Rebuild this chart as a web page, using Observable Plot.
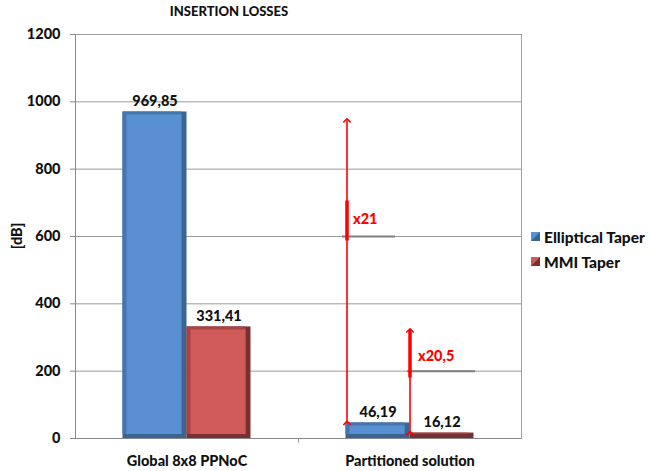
<!DOCTYPE html>
<html>
<head>
<meta charset="utf-8">
<script src="https://cdn.jsdelivr.net/npm/d3@7"></script>
<script src="https://cdn.jsdelivr.net/npm/@observablehq/plot@0.6"></script>
<style>
  body { margin: 0; background: #fff; font-family: Lato, "Open Sans", sans-serif; }
  #wrap { position: relative; width: 649px; height: 471px; }
  #title { position: absolute; left: 0; width: 458px; top: 3px; text-align: center; font-weight: 900; font-size: 13px; color: #111; }
  #chart { position: absolute; left: 0; top: 24px; }
  #ylabel { position: absolute; left: 16px; top: 236px; transform: translate(-50%, -50%) rotate(-90deg); font-weight: 900; font-size: 14.5px; color: #111; white-space: nowrap; }
  #legend { position: absolute; left: 531px; top: 224px; font-weight: 900; font-size: 15.5px; color: #111; }
  .item { display: flex; align-items: center; height: 25px; }
  .sw { width: 9px; height: 9px; margin-right: 4px; }
</style>
</head>
<body>
<div id="wrap">
  <div id="title">INSERTION LOSSES</div>
  <div id="chart"></div>
  <div id="ylabel">[dB]</div>
  <div id="legend"></div>
</div>
<script>
const groups = ["Global 8x8 PPNoC", "Partitioned solution"];
const series = ["Elliptical Taper", "MMI Taper"];
const elliptical = [969.85, 46.19];
const mmi = [331.41, 16.12];
const yTicks = [0, 200, 400, 600, 800, 1000, 1200];
const ratioLabels = ["x21", "x20,5"];
const arrowFrom = [46.19, 16.12];
const arrowTo = [945, 321];
const arrowThickFrom = [588, 181];
const arrowThickTo = [707, 321];
const leaderY = [600, 200];

const colors = {
  "Elliptical Taper": {dark: "#3a6493", mid: "#4676ad", face: "#5990d1"},
  "MMI Taper": {dark: "#7a3031", mid: "#a64445", face: "#d15b5b"}
};

const bars = [];
groups.forEach((g, i) => {
  bars.push({group: g, series: series[0], value: elliptical[i]});
  bars.push({group: g, series: series[1], value: mmi[i]});
});
const fmt = v => v.toFixed(2).replace(".", ",");

const arrows = ratioLabels.map((lab, i) => ({
  group: groups[1], label: lab, from: arrowFrom[i], to: arrowTo[i],
  t1: arrowThickFrom[i], t2: arrowThickTo[i], ly: leaderY[i]
}));

const W = 649, H = 447;
const ML = 75, MR = 128;
const band = (W - ML - MR) / groups.length;
const barW = 64;
const baseInset = (band - barW) / 2;
const off = s => (s === series[0] ? -barW / 2 : barW / 2);

function barLayer(s, key, extra) {
  return Plot.barY(bars.filter(d => d.series === s), {
    x: "group", y: "value", fill: colors[s][key],
    dx: off(s),
    insetLeft: baseInset + (extra.l || 0),
    insetRight: baseInset + (extra.r || 0),
    insetTop: extra.t || 0,
    insetBottom: extra.b || 0
  });
}

const marks = [
  Plot.gridY(yTicks, {stroke: "#9a9a9a", strokeOpacity: 1}),
  Plot.frame({stroke: "#a0a0a0"}),
  Plot.ruleX([0], {x: () => groups[1], dx: -band / 2, y1: 0, y2: -14, stroke: "#999"}),
  Plot.tickY([arrows[0]], {x: "group", y: "ly", stroke: "#7f7f7f", strokeWidth: 2, insetLeft: 44, insetRight: 126}),
  Plot.tickY([arrows[1]], {x: "group", y: "ly", stroke: "#7f7f7f", strokeWidth: 2, insetLeft: 109, insetRight: 46}),
  Plot.ruleY([0], {stroke: "#888"}),
  Plot.ruleX([0], {x: () => groups[0], dx: -band / 2, stroke: "#888"})
];

for (const s of series) {
  marks.push(barLayer(s, "dark", {}));
  marks.push(barLayer(s, "mid", {r: 5, b: 4}));
  marks.push(barLayer(s, "face", {l: 4, r: 5, t: 3, b: 4}));
}

for (const s of series) {
  marks.push(Plot.text(bars.filter(d => d.series === s), {
    x: "group", y: "value", text: d => fmt(d.value), dx: off(s), dy: -11,
    fontWeight: 900, fontSize: 14.5, fill: "#111"
  }));
}

// ratio arrows
marks.push(Plot.link(arrows.slice(0, 1), {x1: "group", x2: "group", y1: "from", y2: "to", dx: -barW + 1,
  stroke: "#ff0000", strokeWidth: 1.6, markerStart: "arrow", markerEnd: "arrow"}));
marks.push(Plot.link(arrows.slice(1), {x1: "group", x2: "group", y1: "from", y2: "to", dx: 0,
  stroke: "#ff0000", strokeWidth: 1.6, markerStart: "arrow", markerEnd: "arrow"}));
marks.push(Plot.link(arrows.slice(0, 1), {x1: "group", x2: "group", y1: "t1", y2: "t2", dx: -barW + 1,
  stroke: "#ff0000", strokeWidth: 3.5}));
marks.push(Plot.link(arrows.slice(1), {x1: "group", x2: "group", y1: "t1", y2: "t2", dx: 0,
  stroke: "#ff0000", strokeWidth: 3.5}));
marks.push(Plot.text(arrows.slice(0, 1), {x: "group", y: "ly", text: "label", dx: -barW + 7, dy: -17,
  textAnchor: "start", fill: "#ff0000", fontWeight: 900, fontSize: 14.5}));
marks.push(Plot.text(arrows.slice(1), {x: "group", y: "ly", text: "label", dx: 8, dy: -15,
  textAnchor: "start", fill: "#ff0000", fontWeight: 900, fontSize: 14.5}));

marks.push(Plot.axisY(yTicks, {tickSize: 5, tickPadding: 10, fontWeight: 900, fontSize: 14.5,
  fill: "#111", stroke: "#888", label: null, tickFormat: d3.format("d")}));
marks.push(Plot.axisX({tickSize: 0, tickPadding: 17, fontWeight: 900, fontSize: 14.5, fill: "#111", label: null}));

const plot = Plot.plot({
  width: W, height: H,
  marginLeft: ML, marginRight: MR, marginTop: 10, marginBottom: 33,
  style: {fontFamily: "Lato, 'Open Sans', sans-serif", background: "white"},
  x: {domain: groups, padding: 0},
  y: {domain: [0, 1200]},
  marks
});
document.getElementById("chart").appendChild(plot);

const legend = document.getElementById("legend");
for (const s of series) {
  const item = document.createElement("div");
  item.className = "item";
  const sw = document.createElement("div");
  sw.className = "sw";
  sw.style.background = `linear-gradient(135deg, ${colors[s].face} 45%, ${colors[s].dark} 55%)`;
  const t = document.createElement("span");
  t.textContent = s;
  item.appendChild(sw); item.appendChild(t);
  legend.appendChild(item);
}
</script>
</body>
</html>
